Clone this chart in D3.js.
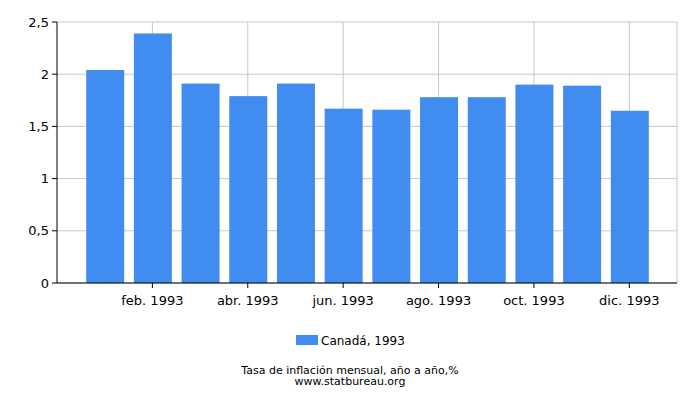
<!DOCTYPE html><html><head><meta charset="utf-8"><script src="https://cdn.jsdelivr.net/npm/d3@7"></script>
<style>body{margin:0;background:#fff}text{font-family:"DejaVu Sans",sans-serif;font-size:13px;fill:#000}</style></head><body>
<svg width="700" height="400"></svg>
<script>
const months=[1,2,3,4,5,6,7,8,9,10,11,12];
const values=[2.04,2.39,1.91,1.79,1.91,1.67,1.66,1.78,1.78,1.90,1.89,1.65];
const tickMonths=[2,4,6,8,10,12];
const tickLabels=["feb. 1993","abr. 1993","jun. 1993","ago. 1993","oct. 1993","dic. 1993"];
const yTicks=[0,0.5,1,1.5,2,2.5];
const svg=d3.select("svg");
const x=d3.scaleLinear().domain([0,13]).range([57,677]);
const y=d3.scaleLinear().domain([0,2.5]).range([283,22]);
const fmt=d=>String(d).replace(".",",");
const g=svg.append("g");
g.selectAll(".hg").data(yTicks).enter().append("line").attr("x1",57).attr("x2",677).attr("y1",d=>y(d)).attr("y2",d=>y(d)).attr("stroke","#c8c8c8");
g.selectAll(".vg").data(tickMonths).enter().append("line").attr("x1",d=>x(d)).attr("x2",d=>x(d)).attr("y1",22).attr("y2",283).attr("stroke","#c8c8c8");
g.append("line").attr("x1",677).attr("x2",677).attr("y1",22).attr("y2",283).attr("stroke","#c8c8c8");
const bw=38;
g.selectAll("rect").data(values).enter().append("rect").attr("x",(d,i)=>x(months[i])-bw/2+0.5).attr("width",bw).attr("y",d=>y(d)).attr("height",d=>283-y(d)).attr("fill","#418cf0");
g.append("line").attr("x1",57).attr("x2",57).attr("y1",22).attr("y2",283).attr("stroke","#000");
g.append("line").attr("x1",57).attr("x2",677).attr("y1",283).attr("y2",283).attr("stroke","#000");
g.selectAll(".yt").data(yTicks).enter().append("line").attr("x1",52).attr("x2",57).attr("y1",d=>y(d)).attr("y2",d=>y(d)).attr("stroke","#000");
g.selectAll(".yl").data(yTicks).enter().append("text").attr("x",49).attr("y",d=>y(d)+4.5).attr("text-anchor","end").text(fmt);
g.selectAll(".xt").data(tickMonths).enter().append("line").attr("x1",d=>x(d)).attr("x2",d=>x(d)).attr("y1",283).attr("y2",288).attr("stroke","#000");
g.selectAll(".xl").data(tickMonths).enter().append("text").attr("x",d=>x(d)).attr("y",305).attr("text-anchor","middle").text((d,i)=>tickLabels[i]);
svg.append("rect").attr("x",296).attr("y",335).attr("width",22).attr("height",10).attr("fill","#418cf0");
svg.append("text").attr("x",321).attr("y",345).style("font-size","12px").text("Canadá, 1993");
svg.append("text").attr("x",350).attr("y",374).attr("text-anchor","middle").style("font-size","11px").text("Tasa de inflación mensual, año a año,%");
svg.append("text").attr("x",350).attr("y",385).attr("text-anchor","middle").style("font-size","11px").text("www.statbureau.org");
</script></body></html>
